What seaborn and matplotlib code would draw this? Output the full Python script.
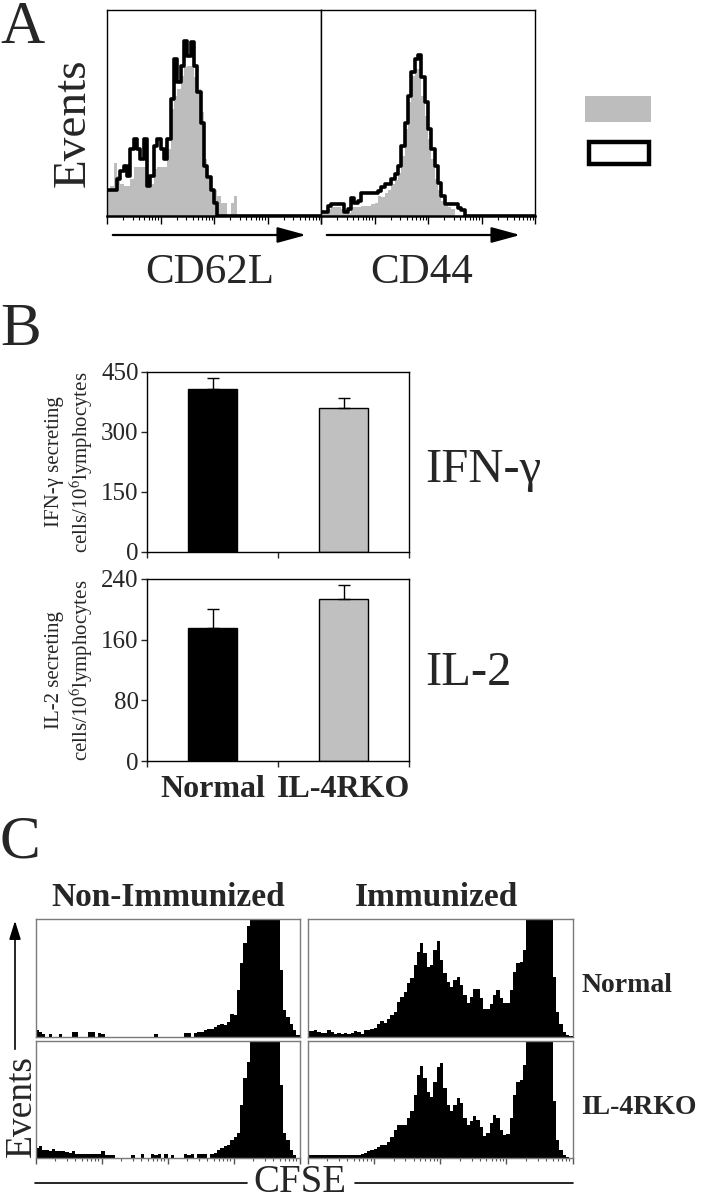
import numpy as np
import pandas as pd
import seaborn as sns
import matplotlib.pyplot as plt
from matplotlib.patches import Rectangle
from matplotlib.lines import Line2D

sns.set_style('white')
plt.rcParams['font.family'] = ['Liberation Serif', 'DejaVu Serif']
plt.rcParams['mathtext.fontset'] = 'stix'

W, H = 706, 1200

# ---------------- data ----------------
# panel A: flow histograms, 64 channels over 4 log decades (events, arbitrary units)
cd62l_gray = [80, 90, 160, 120, 95, 90, 90, 110, 147, 147, 147, 147, 100, 95, 140, 147,
              147, 147, 200, 320, 360, 380, 420, 447, 450, 450, 417, 380, 310, 170, 110, 77,
              77, 60, 40, 40, 0, 40, 60]
cd62l_black = [77, 77, 77, 110, 135, 150, 120, 200, 230, 200, 170, 230, 90, 120, 210, 230,
               200, 170, 230, 350, 470, 400, 450, 525, 480, 522, 450, 370, 280, 150, 117, 77,
               40]
cd44_gray = [12, 12, 20, 27, 27, 27, 20, 5, 10, 27, 27, 27, 30, 30, 30, 35,
             40, 60, 57, 70, 77, 95, 107, 130, 180, 260, 340, 420, 440, 440, 360, 300,
             230, 170, 110, 77, 45, 30, 27, 20]
cd44_black = [12, 12, 30, 37, 37, 37, 37, 12, 20, 55, 40, 45, 70, 70, 70, 70,
              70, 75, 87, 95, 97, 112, 125, 150, 210, 280, 360, 430, 470, 482, 417, 340,
              260, 200, 150, 100, 60, 37, 37, 37, 37, 25, 17]
a_channels = 64

# panel B: ELISPOT bars
groups = ['Normal', 'IL-4RKO']
ifn_mean = [408, 361]
ifn_err = [28, 23]
il2_mean = [176, 213]
il2_err = [25, 19]
ifn_ticks = [0, 150, 300, 450]
il2_ticks = [0, 80, 160, 240]

# panel C: CFSE histograms, 80 channels over 4 log decades
nonimm_normal = [20, 15, 8, 0, 10, 0, 0, 10, 0, 0,
                 0, 15, 15, 0, 0, 0, 15, 15, 0, 12,
                 10, 0, 0, 0, 0, 0, 0, 0, 0, 0,
                 0, 0, 0, 0, 0, 0, 10, 0, 0, 0,
                 0, 0, 0, 0, 0, 12, 12, 0, 12, 15,
                 15, 22, 25, 25, 30, 35, 40, 35, 45, 70,
                 65, 140, 220, 280, 330, 500, 700, 900, 1000, 950,
                 900, 800, 600, 400, 200, 80, 60, 40, 20, 5]
nonimm_ko = [30, 35, 25, 25, 20, 28, 22, 22, 20, 18,
             15, 22, 12, 12, 12, 12, 12, 12, 12, 12,
             22, 10, 10, 8, 0, 0, 0, 0, 0, 10,
             0, 0, 12, 0, 0, 12, 10, 12, 0, 12,
             0, 10, 0, 0, 0, 12, 10, 12, 0, 12,
             12, 12, 0, 12, 15, 25, 30, 35, 40, 55,
             62, 75, 160, 240, 290, 480, 700, 900, 1000, 950,
             900, 800, 600, 400, 220, 75, 55, 25, 8, 0]
imm_normal = [17, 17, 22, 14, 12, 12, 20, 14, 10, 12,
              10, 12, 10, 12, 18, 14, 10, 22, 22, 25,
              27, 40, 47, 42, 55, 65, 75, 105, 118, 135,
              160, 175, 215, 255, 280, 250, 210, 215, 260, 285,
              230, 190, 165, 150, 170, 180, 155, 125, 100, 120,
              142, 143, 115, 85, 85, 98, 125, 140, 115, 100,
              102, 140, 195, 222, 225, 260, 600, 900, 1000, 950,
              900, 800, 600, 400, 180, 75, 40, 15, 5, 2]
imm_ko = [10, 9, 8, 8, 8, 8, 10, 10, 10, 10,
          8, 8, 8, 8, 8, 8, 12, 15, 22, 25,
          28, 32, 38, 40, 48, 62, 85, 100, 98, 100,
          120, 140, 190, 250, 278, 240, 200, 185, 230, 275,
          285, 210, 160, 140, 160, 180, 165, 120, 100, 110,
          125, 115, 92, 65, 75, 105, 128, 120, 85, 70,
          72, 120, 190, 228, 235, 280, 650, 900, 1000, 950,
          900, 800, 650, 420, 170, 55, 25, 8, 2, 0]
c_channels = 80

GRAY = '#bdbdbd'


def pad(vals, n):
    return list(vals) + [0] * (n - len(vals))


def px_axes(fig, x0, y0, x1, y1):
    return fig.add_axes([x0 / W, 1 - y1 / H, (x1 - x0) / W, (y1 - y0) / H])


def ftext(fig, x, y, s, **kw):
    fig.text(x / W, 1 - y / H, s, **kw)


def log_ticks(ax, major_len, minor_len, color='black'):
    ax.set_xticks(range(5))
    ax.set_xticks([d + np.log10(k) for d in range(4) for k in range(2, 10)], minor=True)
    ax.tick_params(axis='x', which='major', direction='out', length=major_len,
                   width=1, color=color, labelbottom=False, bottom=True)
    ax.tick_params(axis='x', which='minor', direction='out', length=minor_len,
                   width=0.8, color=color, bottom=True)
    ax.set_yticks([])


def hist(ax, counts, n, **kw):
    # channel centres across 4 decades, one row per channel
    centers = (np.arange(n) + 0.5) * 4.0 / n
    df = pd.DataFrame({'channel': centers, 'events': pad(counts, n)})
    sns.histplot(data=df, x='channel', weights='events', bins=n, binrange=(0, 4),
                 element='step', ax=ax, **kw)
    ax.set_xlabel('')
    ax.set_ylabel('')


fig = plt.figure(figsize=(W / 100, H / 100), dpi=100)

# ---------------- panel A ----------------
ftext(fig, 0, 28, 'A', fontsize=44, va='center', ha='left')
for (x0, x1, gray, black, name, cx) in [(107, 321, cd62l_gray, cd62l_black, 'CD62L', 210),
                                        (321, 535, cd44_gray, cd44_black, 'CD44', 422)]:
    ax = px_axes(fig, x0, 10, x1, 216)
    hist(ax, gray, a_channels, fill=True, color=GRAY, alpha=1, linewidth=0)
    hist(ax, black, a_channels, fill=False, color='black', linewidth=2.6)
    ax.set_xlim(0, 4)
    ax.set_ylim(0, 617)
    for s in ax.spines.values():
        s.set_color('black')
        s.set_linewidth(1)
    ax.spines['bottom'].set_linewidth(1.8)
    log_ticks(ax, 6, 3)
    ftext(fig, cx, 273, name, fontsize=31, ha='center', va='center')
    ax.annotate('', xy=((x1 - 12) / W, 1 - 235 / H), xytext=((x0 + 3) / W, 1 - 235 / H),
                xycoords='figure fraction',
                arrowprops=dict(arrowstyle='-|>,head_length=1.1,head_width=0.3',
                                color='black', lw=1.6, mutation_scale=16))
ftext(fig, 73, 123, 'Events', fontsize=34, rotation=90, ha='center', va='center')
fig.add_artist(Rectangle((585 / W, 1 - 122 / H), 66 / W, 26 / H, transform=fig.transFigure,
                         facecolor=GRAY, edgecolor='none'))
fig.add_artist(Rectangle((589 / W, 1 - 164 / H), 60 / W, 22 / H, transform=fig.transFigure,
                         facecolor='white', edgecolor='black', linewidth=3.2))

# ---------------- panel B ----------------
ftext(fig, 0, 330, 'B', fontsize=44, va='center', ha='left')
for (y0, y1, mean, err, ticks, lab, name, ny) in [
        (372, 552, ifn_mean, ifn_err, ifn_ticks, 'IFN-\u03b3 secreting', 'IFN-\u03b3', 470),
        (579, 761, il2_mean, il2_err, il2_ticks, 'IL-2 secreting', 'IL-2', 673)]:
    ax = px_axes(fig, 147, y0, 409, y1)
    sns.barplot(x=groups, y=mean, hue=groups, palette=['black', '#c0c0c0'],
                edgecolor='black', linewidth=1, width=0.37, legend=False, ax=ax)
    ax.errorbar([0, 1], mean, yerr=[[0, 0], err], fmt='none', ecolor='black',
                elinewidth=1, capsize=4, capthick=1)
    ax.set_xlim(-0.5, 1.5)
    ax.set_ylim(ticks[0], ticks[-1])
    ax.set_yticks(ticks)
    ax.set_yticklabels([str(t) for t in ticks])
    ax.tick_params(axis='y', direction='out', length=4, width=1, left=True,
                   labelsize=18, pad=2)
    ax.set_xticks([-0.5, 0.5, 1.5], minor=True)
    ax.tick_params(axis='x', which='minor', direction='out', length=4, width=1, bottom=True)
    ax.tick_params(axis='x', which='major', length=0, pad=10)
    ax.set_xticks([0, 1])
    if name == 'IL-2':
        ax.set_xticklabels(groups, fontsize=23, fontweight='bold')
    else:
        ax.set_xticklabels([])
    ax.set_xlabel('')
    ax.set_ylabel('')
    for s in ax.spines.values():
        s.set_color('black')
        s.set_linewidth(1)
    ftext(fig, 70, (y0 + y1) / 2, lab + '\ncells/10$^{6}$lymphocytes', fontsize=15,
          rotation=90, ha='center', va='center', linespacing=1.15)
    ftext(fig, 425, ny, name, fontsize=35, ha='left', va='center')

# ---------------- panel C ----------------
ftext(fig, 0, 843, 'C', fontsize=44, va='center', ha='left')
c_panels = [(35.5, 299.5, 919, 1037, nonimm_normal, False),
            (307.5, 572.5, 919, 1037, imm_normal, False),
            (35.5, 299.5, 1041, 1158, nonimm_ko, True),
            (307.5, 572.5, 1041, 1158, imm_ko, True)]
for (x0, x1, y0, y1, counts, bottom) in c_panels:
    ax = px_axes(fig, x0, y0, x1, y1)
    hist(ax, counts, c_channels, fill=True, color='black', alpha=1, linewidth=0)
    ax.set_xlim(0, 4)
    ax.set_ylim(0, 352)
    for s in ax.spines.values():
        s.set_color('#7a7a7a')
        s.set_linewidth(1)
    log_ticks(ax, 4, 2, color='#555555')
    if not bottom:
        ax.tick_params(axis='x', which='both', bottom=False)

ftext(fig, 168, 898, 'Non-Immunized', fontsize=24, fontweight='bold', ha='center', va='center')
ftext(fig, 437, 898, 'Immunized', fontsize=24, fontweight='bold', ha='center', va='center')
ftext(fig, 581, 985, 'Normal', fontsize=20, fontweight='bold', ha='left', va='center')
ftext(fig, 581, 1108, 'IL-4RKO', fontsize=20, fontweight='bold', ha='left', va='center')
ftext(fig, 22, 1106, 'Events', fontsize=27, rotation=90, ha='center', va='center')
fig.axes[0].annotate('', xy=(15 / W, 1 - 918 / H), xytext=(15 / W, 1 - 1052 / H),
                     xycoords='figure fraction',
                     arrowprops=dict(arrowstyle='-|>,head_length=0.8,head_width=0.25',
                                     color='black', lw=1.2, mutation_scale=14))
ftext(fig, 300, 1182, 'CFSE', fontsize=28, ha='center', va='center')
fig.add_artist(Line2D([35 / W, 247 / W], [1 - 1183 / H] * 2, transform=fig.transFigure,
                      color='black', lw=1.2))
fig.add_artist(Line2D([355 / W, 573 / W], [1 - 1183 / H] * 2, transform=fig.transFigure,
                      color='black', lw=1.2))

fig.savefig('out.png', dpi=100)
